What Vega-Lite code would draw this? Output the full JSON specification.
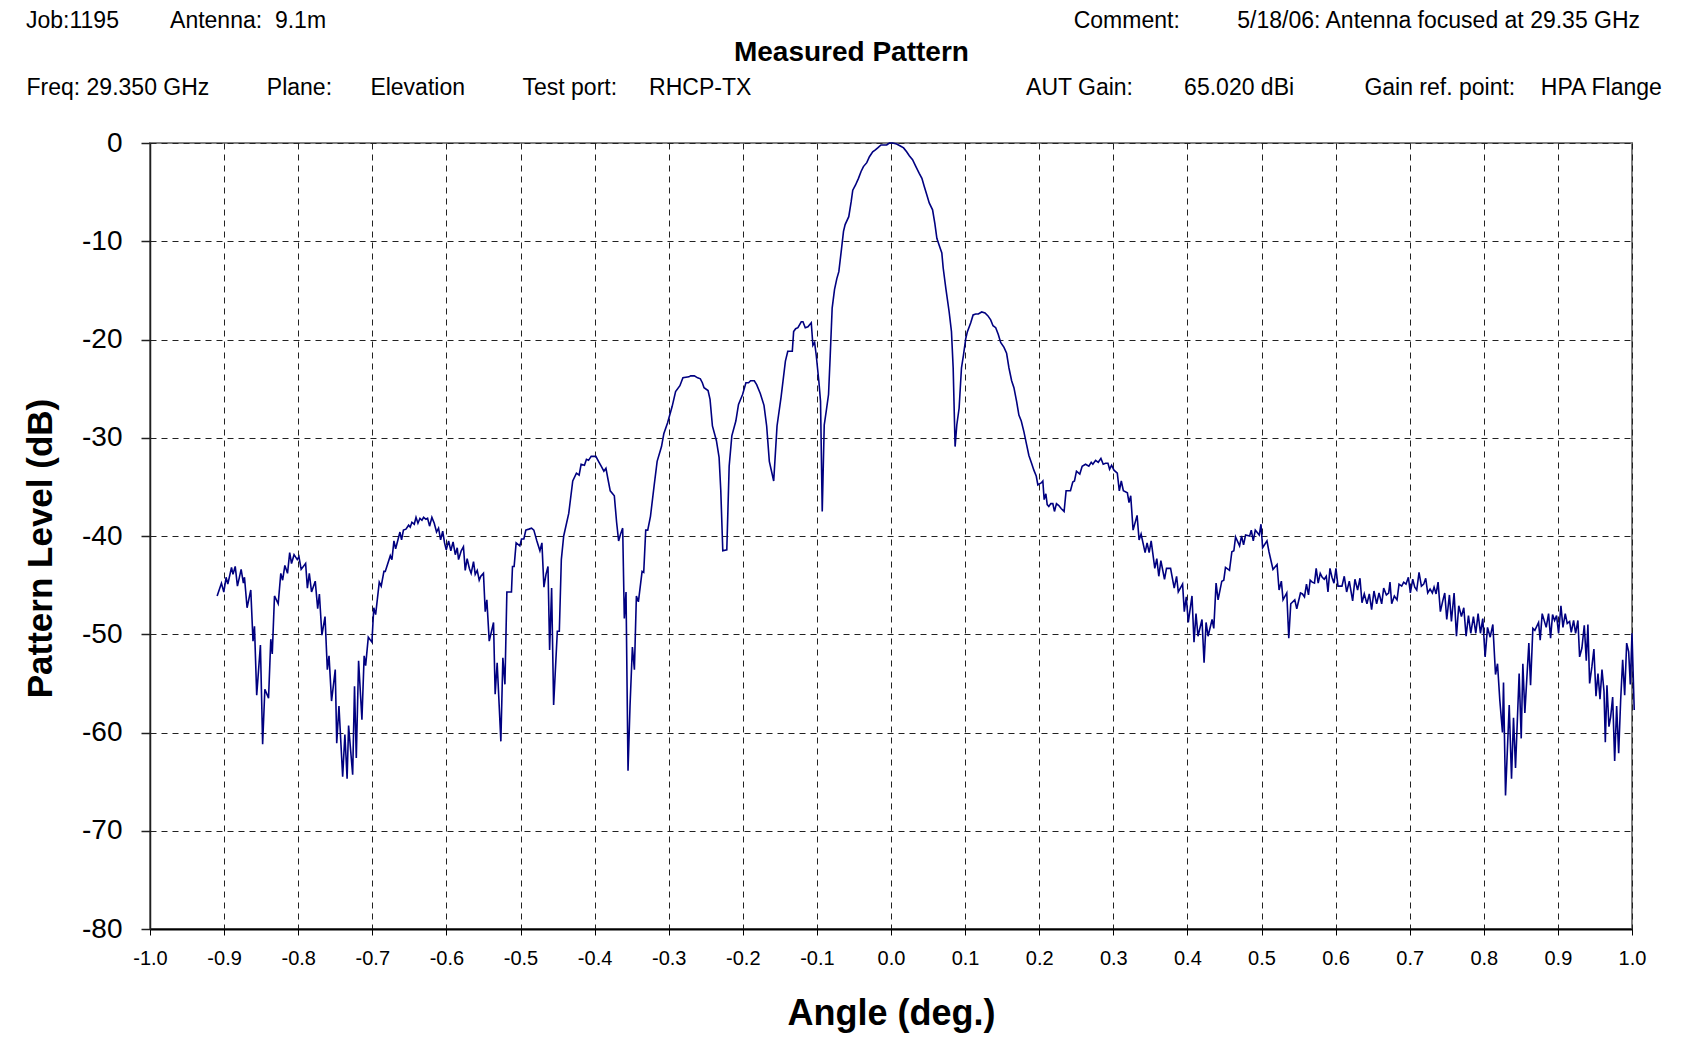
{
"$schema": "https://vega.github.io/schema/vega-lite/v6.json",
"width": 1482,
"height": 786,
"autosize": {"type": "none"},
"padding": {"left": 150, "top": 143, "right": 62, "bottom": 116},
"background": "white",
"config": {"font": "Liberation Sans", "view": {"stroke": "#808080", "strokeWidth": 2}},
"title": {
"text": "Job:1195\u00a0\u00a0\u00a0\u00a0\u00a0\u00a0\u00a0\u00a0Antenna:\u00a0\u00a09.1m\u00a0\u00a0\u00a0\u00a0\u00a0\u00a0\u00a0\u00a0\u00a0\u00a0\u00a0\u00a0\u00a0\u00a0\u00a0\u00a0\u00a0\u00a0\u00a0\u00a0\u00a0\u00a0\u00a0\u00a0\u00a0\u00a0\u00a0\u00a0\u00a0\u00a0\u00a0\u00a0\u00a0\u00a0\u00a0\u00a0\u00a0\u00a0\u00a0\u00a0\u00a0\u00a0\u00a0\u00a0\u00a0\u00a0\u00a0\u00a0\u00a0\u00a0\u00a0\u00a0\u00a0\u00a0\u00a0\u00a0\u00a0\u00a0\u00a0\u00a0\u00a0\u00a0\u00a0\u00a0\u00a0\u00a0\u00a0\u00a0\u00a0\u00a0\u00a0\u00a0\u00a0\u00a0\u00a0\u00a0\u00a0\u00a0\u00a0\u00a0\u00a0\u00a0\u00a0\u00a0\u00a0\u00a0\u00a0\u00a0\u00a0\u00a0\u00a0\u00a0\u00a0\u00a0\u00a0\u00a0\u00a0\u00a0\u00a0\u00a0\u00a0\u00a0\u00a0\u00a0\u00a0\u00a0\u00a0\u00a0\u00a0\u00a0\u00a0\u00a0\u00a0\u00a0\u00a0\u00a0\u00a0Comment:\u00a0\u00a0\u00a0\u00a0\u00a0\u00a0\u00a0\u00a0\u00a05/18/06: Antenna focused at 29.35 GHz",
"subtitle": "\u200b\u00a0\u00a0\u00a0\u00a0\u00a0\u00a0\u00a0\u00a0\u00a0\u00a0\u00a0\u00a0\u00a0\u00a0\u00a0\u00a0\u00a0\u00a0\u00a0\u00a0\u00a0\u00a0\u00a0\u00a0\u00a0\u00a0\u00a0\u00a0\u00a0\u00a0\u00a0\u00a0\u00a0\u00a0\u00a0\u00a0\u00a0\u00a0\u00a0\u00a0\u00a0\u00a0\u00a0\u00a0\u00a0\u00a0\u00a0\u00a0\u00a0\u00a0\u00a0\u00a0\u00a0\u00a0\u00a0\u00a0\u00a0\u00a0\u00a0\u00a0\u00a0\u00a0\u00a0\u00a0\u00a0\u00a0\u00a0\u00a0\u00a0\u00a0\u00a0\u00a0\u00a0\u00a0\u00a0\u00a0\u00a0\u00a0\u00a0\u00a0\u00a0\u00a0\u00a0\u00a0\u00a0\u00a0\u00a0\u00a0\u00a0\u00a0\u00a0Measured Pattern",
"anchor": "start",
"frame": "group",
"dx": -124,
"fontSize": 23,
"fontWeight": "normal",
"font": "Liberation Sans",
"color": "black",
"subtitleFontSize": 28,
"subtitleFontWeight": "bold",
"subtitleFont": "Liberation Sans",
"subtitleColor": "black",
"subtitlePadding": 6,
"offset": 9
},
"data": {"values": [
{"angle":-0.9094,"level":-46.1},{"angle":-0.9036,"level":-44.8},{"angle":-0.9004,"level":-45.7},{"angle":-0.8973,"level":-44.2},{"angle":-0.895,"level":-44.9},{"angle":-0.89,"level":-43.2},{"angle":-0.888,"level":-43.9},{"angle":-0.885,"level":-43.1},{"angle":-0.882,"level":-45.1},{"angle":-0.877,"level":-43.4},{"angle":-0.874,"level":-44.8},{"angle":-0.8725,"level":-44.2},{"angle":-0.869,"level":-47.3},{"angle":-0.864,"level":-45.5},{"angle":-0.861,"level":-50.7},{"angle":-0.859,"level":-49.2},{"angle":-0.856,"level":-56.2},{"angle":-0.851,"level":-51.1},{"angle":-0.848,"level":-61.2},{"angle":-0.845,"level":-55.6},{"angle":-0.84,"level":-56.5},{"angle":-0.837,"level":-50.5},{"angle":-0.835,"level":-52.0},{"angle":-0.832,"level":-46.1},{"angle":-0.827,"level":-46.9},{"angle":-0.8235,"level":-43.8},{"angle":-0.821,"level":-44.5},{"angle":-0.818,"level":-43.0},{"angle":-0.8144,"level":-43.8},{"angle":-0.8115,"level":-41.7},{"angle":-0.809,"level":-42.8},{"angle":-0.8056,"level":-41.9},{"angle":-0.8013,"level":-42.4},{"angle":-0.799,"level":-42.1},{"angle":-0.796,"level":-43.4},{"angle":-0.79,"level":-42.8},{"angle":-0.7876,"level":-45.3},{"angle":-0.785,"level":-43.8},{"angle":-0.782,"level":-45.7},{"angle":-0.777,"level":-44.6},{"angle":-0.7737,"level":-47.4},{"angle":-0.7714,"level":-45.9},{"angle":-0.768,"level":-50.1},{"angle":-0.7638,"level":-48.2},{"angle":-0.7607,"level":-53.6},{"angle":-0.7584,"level":-52.2},{"angle":-0.755,"level":-56.8},{"angle":-0.75,"level":-53.6},{"angle":-0.748,"level":-61.1},{"angle":-0.745,"level":-57.3},{"angle":-0.74,"level":-64.5},{"angle":-0.737,"level":-60.2},{"angle":-0.734,"level":-64.7},{"angle":-0.732,"level":-59.3},{"angle":-0.7265,"level":-64.3},{"angle":-0.724,"level":-55.3},{"angle":-0.7216,"level":-62.6},{"angle":-0.7185,"level":-52.7},{"angle":-0.714,"level":-58.7},{"angle":-0.711,"level":-52.2},{"angle":-0.709,"level":-53.2},{"angle":-0.7054,"level":-50.3},{"angle":-0.7005,"level":-50.8},{"angle":-0.698,"level":-47.3},{"angle":-0.6955,"level":-48.0},{"angle":-0.6906,"level":-44.7},{"angle":-0.688,"level":-45.1},{"angle":-0.6843,"level":-43.6},{"angle":-0.6825,"level":-43.6},{"angle":-0.6757,"level":-42.0},{"angle":-0.6735,"level":-42.4},{"angle":-0.6708,"level":-40.5},{"angle":-0.6685,"level":-41.3},{"angle":-0.6627,"level":-39.6},{"angle":-0.6605,"level":-40.4},{"angle":-0.658,"level":-39.4},{"angle":-0.6546,"level":-39.3},{"angle":-0.651,"level":-38.9},{"angle":-0.6488,"level":-39.1},{"angle":-0.6466,"level":-38.6},{"angle":-0.6434,"level":-38.8},{"angle":-0.641,"level":-38.1},{"angle":-0.6384,"level":-38.7},{"angle":-0.6357,"level":-38.2},{"angle":-0.633,"level":-38.4},{"angle":-0.6308,"level":-38.1},{"angle":-0.6276,"level":-38.3},{"angle":-0.6254,"level":-38.2},{"angle":-0.6227,"level":-39.0},{"angle":-0.6196,"level":-38.1},{"angle":-0.6164,"level":-38.7},{"angle":-0.6133,"level":-39.6},{"angle":-0.6106,"level":-39.2},{"angle":-0.6078,"level":-40.4},{"angle":-0.605,"level":-39.5},{"angle":-0.6025,"level":-40.7},{"angle":-0.6002,"level":-41.4},{"angle":-0.597,"level":-40.5},{"angle":-0.594,"level":-41.5},{"angle":-0.591,"level":-40.6},{"angle":-0.588,"level":-41.9},{"angle":-0.5854,"level":-41.2},{"angle":-0.5836,"level":-42.4},{"angle":-0.58,"level":-41.5},{"angle":-0.577,"level":-41.1},{"angle":-0.5746,"level":-43.5},{"angle":-0.572,"level":-42.3},{"angle":-0.569,"level":-43.3},{"angle":-0.5666,"level":-43.8},{"angle":-0.5634,"level":-42.6},{"angle":-0.5611,"level":-43.9},{"angle":-0.5584,"level":-43.5},{"angle":-0.5557,"level":-44.5},{"angle":-0.5535,"level":-44.1},{"angle":-0.55,"level":-43.8},{"angle":-0.5476,"level":-47.7},{"angle":-0.5454,"level":-46.5},{"angle":-0.5422,"level":-50.7},{"angle":-0.5364,"level":-48.8},{"angle":-0.5342,"level":-56.1},{"angle":-0.5315,"level":-52.9},{"angle":-0.5265,"level":-60.9},{"angle":-0.5238,"level":-52.4},{"angle":-0.521,"level":-55.1},{"angle":-0.5184,"level":-45.7},
{"angle":-0.5122,"level":-45.7},{"angle":-0.5108,"level":-43.1},{"angle":-0.5086,"level":-43.1},{"angle":-0.5059,"level":-40.7},{"angle":-0.5009,"level":-41.0},{"angle":-0.4986,"level":-40.3},{"angle":-0.4955,"level":-40.3},{"angle":-0.4928,"level":-39.4},{"angle":-0.4887,"level":-39.3},{"angle":-0.4851,"level":-39.2},{"angle":-0.482,"level":-39.4},{"angle":-0.4779,"level":-40.5},{"angle":-0.4738,"level":-41.5},{"angle":-0.4711,"level":-40.7},{"angle":-0.4684,"level":-45.2},{"angle":-0.4656,"level":-43.9},{"angle":-0.4629,"level":-43.1},{"angle":-0.4607,"level":-51.6},{"angle":-0.458,"level":-45.3},{"angle":-0.4553,"level":-57.2},{"angle":-0.4503,"level":-49.7},{"angle":-0.4476,"level":-49.7},{"angle":-0.4449,"level":-42.4},{"angle":-0.4417,"level":-40.0},{"angle":-0.4349,"level":-37.7},{"angle":-0.4295,"level":-34.4},{"angle":-0.4245,"level":-33.6},{"angle":-0.4209,"level":-33.8},{"angle":-0.4182,"level":-32.7},{"angle":-0.4137,"level":-32.8},{"angle":-0.411,"level":-32.2},{"angle":-0.4082,"level":-32.3},{"angle":-0.4046,"level":-31.9},{"angle":-0.3983,"level":-31.9},{"angle":-0.3947,"level":-32.4},{"angle":-0.3911,"level":-32.9},{"angle":-0.3875,"level":-33.4},{"angle":-0.3847,"level":-33.1},{"angle":-0.382,"level":-34.2},{"angle":-0.3789,"level":-35.4},{"angle":-0.3734,"level":-35.9},{"angle":-0.3703,"level":-38.6},{"angle":-0.3676,"level":-40.5},{"angle":-0.3649,"level":-39.8},{"angle":-0.3621,"level":-39.2},{"angle":-0.3599,"level":-48.4},{"angle":-0.3576,"level":-45.7},{"angle":-0.3549,"level":-63.9},{"angle":-0.3522,"level":-57.3},{"angle":-0.349,"level":-51.3},{"angle":-0.3463,"level":-53.6},{"angle":-0.3436,"level":-46.1},{"angle":-0.3409,"level":-46.7},{"angle":-0.3359,"level":-43.6},{"angle":-0.3337,"level":-43.7},{"angle":-0.331,"level":-39.4},{"angle":-0.3283,"level":-39.4},{"angle":-0.3246,"level":-38.0},{"angle":-0.3197,"level":-34.9},{"angle":-0.3156,"level":-32.4},{"angle":-0.3097,"level":-30.9},{"angle":-0.3066,"level":-29.6},{"angle":-0.3016,"level":-28.5},{"angle":-0.2953,"level":-26.8},{"angle":-0.2907,"level":-25.3},{"angle":-0.2849,"level":-24.7},{"angle":-0.2808,"level":-23.9},{"angle":-0.2727,"level":-23.8},{"angle":-0.2704,"level":-23.7},{"angle":-0.2654,"level":-23.7},{"angle":-0.2609,"level":-23.9},{"angle":-0.2573,"level":-24.0},{"angle":-0.2546,"level":-24.4},{"angle":-0.2523,"level":-24.9},{"angle":-0.2469,"level":-25.2},{"angle":-0.2442,"level":-26.1},{"angle":-0.241,"level":-28.8},{"angle":-0.2356,"level":-30.3},{"angle":-0.232,"level":-32.0},{"angle":-0.2297,"level":-35.4},{"angle":-0.227,"level":-41.5},{"angle":-0.2216,"level":-41.4},{"angle":-0.2184,"level":-32.9},{"angle":-0.2148,"level":-29.8},{"angle":-0.2094,"level":-28.3},{"angle":-0.2058,"level":-26.6},{"angle":-0.2003,"level":-25.6},{"angle":-0.1958,"level":-24.4},{"angle":-0.1922,"level":-24.4},{"angle":-0.1895,"level":-24.2},{"angle":-0.1845,"level":-24.2},{"angle":-0.1813,"level":-24.6},{"angle":-0.1764,"level":-25.5},{"angle":-0.1714,"level":-26.7},{"angle":-0.1678,"level":-28.8},{"angle":-0.1642,"level":-32.4},{"angle":-0.1583,"level":-34.4},{"angle":-0.1538,"level":-28.8},{"angle":-0.1484,"level":-25.9},{"angle":-0.1425,"level":-22.2},{"angle":-0.1393,"level":-21.2},
{"angle":-0.1332,"level":-21.2},{"angle":-0.1314,"level":-19.2},{"angle":-0.1287,"level":-18.9},{"angle":-0.1256,"level":-18.8},{"angle":-0.1211,"level":-18.2},{"angle":-0.1188,"level":-18.2},{"angle":-0.1157,"level":-18.8},{"angle":-0.1121,"level":-18.7},{"angle":-0.1076,"level":-18.3},{"angle":-0.1054,"level":-20.6},{"angle":-0.1031,"level":-20.3},{"angle":-0.1009,"level":-21.6},{"angle":-0.0973,"level":-24.3},{"angle":-0.0951,"level":-26.3},{"angle":-0.0928,"level":-37.5},{"angle":-0.0901,"level":-28.7},{"angle":-0.0874,"level":-27.3},{"angle":-0.0843,"level":-25.6},{"angle":-0.082,"level":-21.6},{"angle":-0.0794,"level":-16.8},{"angle":-0.0762,"level":-14.9},{"angle":-0.0731,"level":-13.8},{"angle":-0.0704,"level":-13.1},{"angle":-0.0673,"level":-11.1},{"angle":-0.0641,"level":-9.0},{"angle":-0.0619,"level":-8.3},{"angle":-0.057,"level":-7.5},{"angle":-0.0538,"level":-6.0},{"angle":-0.0516,"level":-4.8},{"angle":-0.048,"level":-4.3},{"angle":-0.0439,"level":-3.6},{"angle":-0.0404,"level":-2.9},{"angle":-0.0372,"level":-2.4},{"angle":-0.0327,"level":-2.0},{"angle":-0.0291,"level":-1.4},{"angle":-0.0247,"level":-0.9},{"angle":-0.0211,"level":-0.7},{"angle":-0.0179,"level":-0.5},{"angle":-0.0135,"level":-0.2},{"angle":-0.0058,"level":-0.2},{"angle":-0.0022,"level":0.0},{"angle":0.0022,"level":0.0},{"angle":0.0076,"level":-0.1},{"angle":0.0126,"level":-0.3},{"angle":0.017,"level":-0.5},{"angle":0.0211,"level":-0.9},{"angle":0.0247,"level":-1.3},{"angle":0.0291,"level":-1.7},{"angle":0.0336,"level":-2.4},{"angle":0.0381,"level":-3.1},{"angle":0.0417,"level":-3.6},{"angle":0.0448,"level":-4.4},{"angle":0.0484,"level":-5.3},{"angle":0.0516,"level":-6.1},{"angle":0.0561,"level":-6.8},{"angle":0.0592,"level":-8.2},{"angle":0.0619,"level":-9.7},{"angle":0.065,"level":-10.4},{"angle":0.0686,"level":-11.2},{"angle":0.0704,"level":-12.7},{"angle":0.074,"level":-14.8},{"angle":0.0785,"level":-17.2},{"angle":0.0816,"level":-19.2},{"angle":0.0839,"level":-22.9},{"angle":0.0865,"level":-30.9},{"angle":0.0888,"level":-28.7},{"angle":0.0919,"level":-27.0},{"angle":0.0951,"level":-22.9},{"angle":0.0978,"level":-21.6},{"angle":0.1009,"level":-19.9},{"angle":0.1031,"level":-19.2},{"angle":0.1076,"level":-18.3},{"angle":0.1108,"level":-17.5},{"angle":0.1143,"level":-17.4},{"angle":0.1179,"level":-17.4},{"angle":0.1224,"level":-17.2},{"angle":0.1269,"level":-17.3},{"angle":0.1309,"level":-17.6},{"angle":0.1345,"level":-18.0},{"angle":0.1377,"level":-18.6},{"angle":0.1413,"level":-18.8},{"angle":0.1448,"level":-19.5},{"angle":0.148,"level":-20.3},{"angle":0.1525,"level":-20.8},{"angle":0.156,"level":-21.4},{"angle":0.1592,"level":-22.9},{"angle":0.1628,"level":-24.2},{"angle":0.1659,"level":-24.9},{"angle":0.1695,"level":-26.3},{"angle":0.1726,"level":-27.7},{"angle":0.1758,"level":-28.3},{"angle":0.1794,"level":-29.4},{"angle":0.183,"level":-30.7},{"angle":0.1861,"level":-31.8},{"angle":0.1897,"level":-32.6},{"angle":0.1928,"level":-33.3},{"angle":0.196,"level":-33.9},{"angle":0.1982,"level":-34.8},{"angle":0.2004,"level":-34.7},{"angle":0.2027,"level":-34.6},{"angle":0.2049,"level":-34.4},{"angle":0.2067,"level":-36.3},{"angle":0.209,"level":-35.7},{"angle":0.2108,"level":-36.8},{"angle":0.213,"level":-37.0},{"angle":0.2157,"level":-36.7},{"angle":0.2184,"level":-36.7},{"angle":0.2206,"level":-37.5},{"angle":0.2233,"level":-36.7},{"angle":0.2265,"level":-36.9},{"angle":0.2296,"level":-37.2},{"angle":0.2336,"level":-37.5},
{"angle":0.2363,"level":-35.4},{"angle":0.2422,"level":-35.4},{"angle":0.2453,"level":-34.5},{"angle":0.2476,"level":-34.4},{"angle":0.2503,"level":-33.4},{"angle":0.2548,"level":-33.7},{"angle":0.258,"level":-32.9},{"angle":0.2625,"level":-32.7},{"angle":0.267,"level":-32.9},{"angle":0.2702,"level":-32.5},{"angle":0.2724,"level":-32.7},{"angle":0.2761,"level":-32.3},{"angle":0.2797,"level":-32.5},{"angle":0.2833,"level":-32.1},{"angle":0.2864,"level":-32.7},{"angle":0.2896,"level":-32.6},{"angle":0.2928,"level":-32.6},{"angle":0.295,"level":-33.2},{"angle":0.2977,"level":-32.8},{"angle":0.3009,"level":-33.3},{"angle":0.3054,"level":-33.6},{"angle":0.3081,"level":-35.4},{"angle":0.3108,"level":-34.4},{"angle":0.3136,"level":-35.4},{"angle":0.319,"level":-35.6},{"angle":0.3212,"level":-36.6},{"angle":0.3235,"level":-35.9},{"angle":0.3267,"level":-39.4},{"angle":0.3321,"level":-37.9},{"angle":0.3348,"level":-40.4},{"angle":0.3375,"level":-39.8},{"angle":0.3429,"level":-41.7},{"angle":0.3456,"level":-40.7},{"angle":0.3484,"level":-41.7},{"angle":0.3511,"level":-40.5},{"angle":0.356,"level":-43.3},{"angle":0.3587,"level":-42.3},{"angle":0.3614,"level":-44.1},{"angle":0.3642,"level":-42.5},{"angle":0.3691,"level":-44.4},{"angle":0.3718,"level":-43.3},{"angle":0.3773,"level":-43.3},{"angle":0.3822,"level":-45.3},{"angle":0.3854,"level":-44.1},{"angle":0.3877,"level":-45.7},{"angle":0.3935,"level":-44.9},{"angle":0.3958,"level":-47.7},{"angle":0.3985,"level":-46.2},{"angle":0.4012,"level":-48.8},{"angle":0.4062,"level":-46.1},{"angle":0.4089,"level":-50.8},{"angle":0.4116,"level":-47.9},{"angle":0.4143,"level":-50.2},{"angle":0.4197,"level":-48.5},{"angle":0.4225,"level":-52.9},{"angle":0.4252,"level":-48.8},{"angle":0.4279,"level":-50.2},{"angle":0.4333,"level":-48.5},{"angle":0.4356,"level":-49.4},{"angle":0.4387,"level":-44.8},{"angle":0.4414,"level":-46.5},{"angle":0.4464,"level":-44.6},{"angle":0.4491,"level":-44.5},{"angle":0.4514,"level":-43.2},{"angle":0.4568,"level":-43.5},{"angle":0.46,"level":-41.6},{"angle":0.4627,"level":-41.5},{"angle":0.465,"level":-40.1},{"angle":0.4704,"level":-41.0},{"angle":0.4731,"level":-40.0},{"angle":0.4758,"level":-40.9},{"angle":0.4785,"level":-39.9},{"angle":0.484,"level":-40.0},{"angle":0.4862,"level":-39.4},{"angle":0.4889,"level":-40.5},{"angle":0.4916,"level":-39.4},{"angle":0.497,"level":-39.9},{"angle":0.4993,"level":-38.8},{"angle":0.5015,"level":-41.2},{"angle":0.5074,"level":-40.5},{"angle":0.5101,"level":-41.6},{"angle":0.5155,"level":-43.4},{"angle":0.521,"level":-42.9},{"angle":0.5237,"level":-45.5},{"angle":0.5268,"level":-44.6},{"angle":0.5291,"level":-46.5},{"angle":0.5341,"level":-45.8},{"angle":0.5368,"level":-50.4},{"angle":0.5395,"level":-46.9},{"angle":0.5449,"level":-46.5},{"angle":0.5476,"level":-47.4},{"angle":0.5526,"level":-45.8},{"angle":0.5553,"level":-45.9},{"angle":0.558,"level":-46.2},{"angle":0.5607,"level":-44.9},{"angle":0.5634,"level":-46.0},{"angle":0.5657,"level":-44.5},{"angle":0.5684,"level":-44.7},{"angle":0.5715,"level":-44.8},{"angle":0.5738,"level":-43.3},{"angle":0.5765,"level":-44.8},{"angle":0.5793,"level":-43.8},{"angle":0.582,"level":-44.2},{"angle":0.5847,"level":-44.4},{"angle":0.5874,"level":-44.1},{"angle":0.5897,"level":-45.7},{"angle":0.5924,"level":-43.3},{"angle":0.5951,"level":-44.2},{"angle":0.5978,"level":-44.8},{"angle":0.6005,"level":-43.3},{"angle":0.6032,"level":-45.1},
{"angle":0.6086,"level":-45.1},{"angle":0.6117,"level":-44.1},{"angle":0.6149,"level":-45.7},{"angle":0.6185,"level":-44.6},{"angle":0.623,"level":-46.6},{"angle":0.6261,"level":-44.4},{"angle":0.6297,"level":-45.5},{"angle":0.6329,"level":-44.3},{"angle":0.6356,"level":-46.8},{"angle":0.6387,"level":-45.9},{"angle":0.6423,"level":-46.9},{"angle":0.6455,"level":-45.9},{"angle":0.6486,"level":-47.5},{"angle":0.6518,"level":-45.6},{"angle":0.6554,"level":-46.9},{"angle":0.6586,"level":-45.8},{"angle":0.6622,"level":-46.9},{"angle":0.6649,"level":-45.3},{"angle":0.6685,"level":-46.0},{"angle":0.6716,"level":-45.8},{"angle":0.6734,"level":-44.7},{"angle":0.6757,"level":-46.9},{"angle":0.6793,"level":-46.1},{"angle":0.6829,"level":-46.5},{"angle":0.6856,"level":-44.9},{"angle":0.6892,"level":-45.1},{"angle":0.6919,"level":-44.7},{"angle":0.695,"level":-44.9},{"angle":0.6982,"level":-44.2},{"angle":0.7009,"level":-45.8},{"angle":0.7041,"level":-44.4},{"angle":0.7068,"level":-45.2},{"angle":0.7095,"level":-45.5},{"angle":0.7126,"level":-43.7},{"angle":0.7158,"level":-45.1},{"angle":0.7189,"level":-44.9},{"angle":0.7216,"level":-44.3},{"angle":0.7243,"level":-45.8},{"angle":0.7275,"level":-45.4},{"angle":0.7306,"level":-45.8},{"angle":0.7329,"level":-45.2},{"angle":0.7356,"level":-45.9},{"angle":0.7383,"level":-44.7},{"angle":0.7414,"level":-47.7},{"angle":0.7446,"level":-46.6},{"angle":0.7473,"level":-45.8},{"angle":0.75,"level":-48.5},{"angle":0.7536,"level":-46.0},{"angle":0.7563,"level":-48.7},{"angle":0.7599,"level":-45.8},{"angle":0.7631,"level":-50.2},{"angle":0.7662,"level":-47.1},{"angle":0.7698,"level":-48.2},{"angle":0.773,"level":-47.3},{"angle":0.7761,"level":-50.2},{"angle":0.7793,"level":-48.1},{"angle":0.7824,"level":-49.9},{"angle":0.786,"level":-48.2},{"angle":0.7892,"level":-49.9},{"angle":0.7923,"level":-47.9},{"angle":0.7955,"level":-49.9},{"angle":0.7986,"level":-48.4},{"angle":0.8018,"level":-52.3},{"angle":0.805,"level":-49.3},{"angle":0.8086,"level":-50.3},{"angle":0.8122,"level":-49.0},{"angle":0.8158,"level":-54.1},{"angle":0.8185,"level":-53.0},{"angle":0.8216,"level":-56.7},{"angle":0.8252,"level":-60.0},{"angle":0.8266,"level":-54.9},{"angle":0.8293,"level":-66.4},{"angle":0.8343,"level":-57.2},{"angle":0.8374,"level":-64.7},{"angle":0.8401,"level":-58.5},{"angle":0.8428,"level":-63.6},{"angle":0.8477,"level":-54.0},{"angle":0.8505,"level":-60.6},{"angle":0.8527,"level":-53.0},{"angle":0.8554,"level":-58.0},{"angle":0.8608,"level":-50.9},{"angle":0.8631,"level":-55.2},{"angle":0.8662,"level":-49.4},{"angle":0.8689,"level":-49.6},{"angle":0.8739,"level":-48.8},{"angle":0.8761,"level":-50.6},{"angle":0.8788,"level":-47.9},{"angle":0.8842,"level":-49.3},{"angle":0.8874,"level":-47.9},{"angle":0.8901,"level":-50.4},{"angle":0.8928,"level":-48.0},{"angle":0.8955,"level":-48.6},{"angle":0.8982,"level":-48.1},{"angle":0.9009,"level":-49.9},{"angle":0.9041,"level":-47.1},{"angle":0.9068,"level":-49.3},{"angle":0.9099,"level":-47.9},{"angle":0.9126,"level":-48.9},{"angle":0.9158,"level":-48.7},{"angle":0.918,"level":-49.8},{"angle":0.9212,"level":-48.6},{"angle":0.9239,"level":-49.9},{"angle":0.927,"level":-48.6},{"angle":0.9293,"level":-52.3},{"angle":0.9324,"level":-51.4},{"angle":0.9356,"level":-49.1},{"angle":0.9383,"level":-52.7},{"angle":0.9405,"level":-49.0},{"angle":0.9428,"level":-55.0},{"angle":0.9459,"level":-53.3},{"angle":0.9486,"level":-51.5},{"angle":0.9514,"level":-56.3},{"angle":0.9541,"level":-54.0},{"angle":0.9568,"level":-56.6},{"angle":0.9595,"level":-53.6},{"angle":0.9622,"level":-55.8},{"angle":0.964,"level":-61.0},{"angle":0.9662,"level":-55.2},{"angle":0.9689,"level":-59.4},{"angle":0.9712,"level":-58.4},{"angle":0.9739,"level":-56.4},{"angle":0.9766,"level":-62.9},{"angle":0.9793,"level":-57.3},{"angle":0.982,"level":-62.1},{"angle":0.9847,"level":-56.7},{"angle":0.9874,"level":-52.6},{"angle":0.9901,"level":-56.2},{"angle":0.9928,"level":-50.9},{"angle":0.9955,"level":-51.8},{"angle":0.9977,"level":-55.1},{"angle":1.0,"level":-49.9},{"angle":1.003,"level":-57.7}
]},
"layer": [
{
"mark": {"type": "line", "color": "#000080", "strokeWidth": 1.6},
"encoding": {
"x": {"field": "angle", "type": "quantitative",
"scale": {"domain": [-1, 1], "nice": false, "zero": false},
"axis": {"orient": "bottom", "values": [-1,-0.9,-0.8,-0.7,-0.6,-0.5,-0.4,-0.3,-0.2,-0.1,0,0.1,0.2,0.3,0.4,0.5,0.6,0.7,0.8,0.9,1],
"labelExpr": "replace(format(datum.value, '.1f'), '\u2212', '-')",
"labelFlush": false, "labelOverlap": false,
"grid": true, "gridColor": "#222222", "gridDash": [6, 5], "gridWidth": 1,
"domainColor": "black", "domainWidth": 2, "tickColor": "black", "tickSize": 6, "tickWidth": 1,
"labelFontSize": 20, "labelColor": "black", "labelPadding": 13, "labelFont": "Liberation Sans",
"title": "Angle (deg.)", "titleFontSize": 36, "titleFontWeight": "bold", "titleColor": "black", "titleFont": "Liberation Sans",
"titleY": 84, "titleBaseline": "middle"}},
"y": {"field": "level", "type": "quantitative",
"scale": {"domain": [-80, 0], "nice": false, "zero": false},
"axis": {"values": [-80,-70,-60,-50,-40,-30,-20,-10,0],
"labelExpr": "replace(format(datum.value, 'd'), '\u2212', '-')",
"labelOverlap": false,
"grid": true, "gridColor": "#222222", "gridDash": [6, 5], "gridWidth": 1,
"domainColor": "#202020", "domainWidth": 1.5, "tickColor": "#202020", "tickSize": 9, "tickWidth": 1.5,
"labelFontSize": 28, "labelColor": "black", "labelPadding": 19, "labelFont": "Liberation Sans",
"title": "Pattern Level (dB)", "titleFontSize": 35, "titleFontWeight": "bold", "titleColor": "black", "titleFont": "Liberation Sans",
"titleX": -110, "titleY": 405, "titleAngle": 270, "titleBaseline": "middle", "titleAlign": "center"}}
}
},
{
"mark": {"type": "line", "opacity": 0},
"encoding": {
"x": {"field": "angle", "type": "quantitative",
"axis": {"orient": "top", "domain": false, "ticks": false, "labels": false, "grid": false,
"title": "Freq: 29.350 GHz\u00a0\u00a0\u00a0\u00a0\u00a0\u00a0\u00a0\u00a0\u00a0Plane:\u00a0\u00a0\u00a0\u00a0\u00a0\u00a0Elevation\u00a0\u00a0\u00a0\u00a0\u00a0\u00a0\u00a0\u00a0\u00a0Test port:\u00a0\u00a0\u00a0\u00a0\u00a0RHCP-TX\u00a0\u00a0\u00a0\u00a0\u00a0\u00a0\u00a0\u00a0\u00a0\u00a0\u00a0\u00a0\u00a0\u00a0\u00a0\u00a0\u00a0\u00a0\u00a0\u00a0\u00a0\u00a0\u00a0\u00a0\u00a0\u00a0\u00a0\u00a0\u00a0\u00a0\u00a0\u00a0\u00a0\u00a0\u00a0\u00a0\u00a0\u00a0\u00a0\u00a0\u00a0\u00a0\u00a0AUT Gain:\u00a0\u00a0\u00a0\u00a0\u00a0\u00a0\u00a0\u00a065.020 dBi\u00a0\u00a0\u00a0\u00a0\u00a0\u00a0\u00a0\u00a0\u00a0\u00a0\u00a0Gain ref. point:\u00a0\u00a0\u00a0\u00a0HPA Flange",
"titleFontSize": 23, "titleFontWeight": "normal", "titleColor": "black", "titleFont": "Liberation Sans",
"titleX": -124, "titleY": -56, "titleAlign": "left", "titleBaseline": "middle", "titleAngle": 0}}
}
}
],
"resolve": {"axis": {"x": "independent"}}
}
